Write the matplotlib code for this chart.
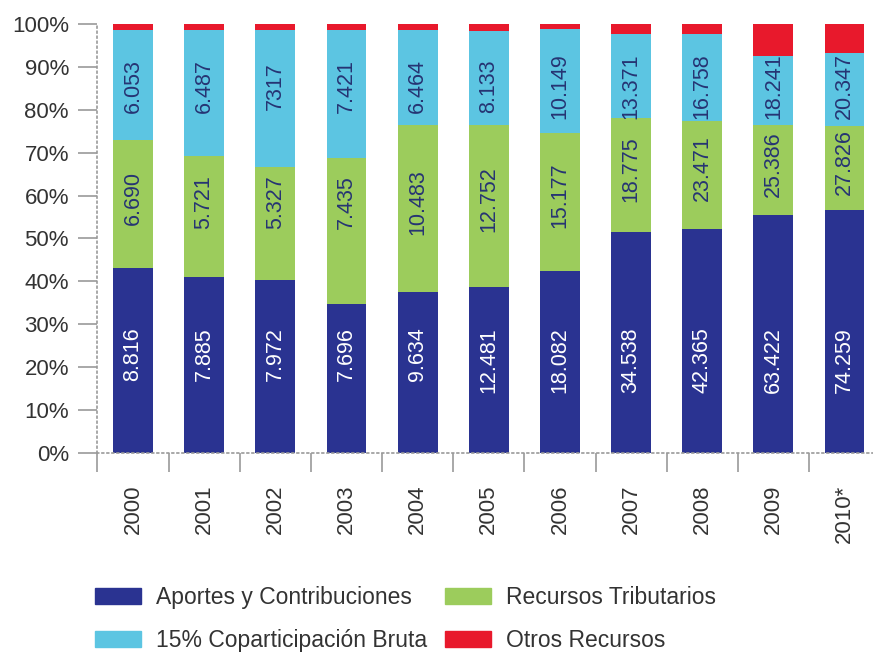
import numpy as np
import matplotlib
matplotlib.use('Agg')
import matplotlib.pyplot as plt
from matplotlib.patches import Patch

plt.rcParams['font.family'] = ['Liberation Sans', 'DejaVu Sans']

# datos (participación en %) y rótulos de cada tramo
years = ['2000', '2001', '2002', '2003', '2004', '2005', '2006', '2007', '2008', '2009', '2010*']
aportes_pct = [43.0, 41.1, 40.3, 34.7, 37.4, 38.7, 42.5, 51.4, 52.2, 55.4, 56.6]
tributarios_pct = [29.9, 28.2, 26.4, 34.0, 39.0, 37.7, 32.0, 26.6, 25.2, 21.0, 19.6]
copart_pct = [25.7, 29.3, 31.9, 29.9, 22.2, 22.0, 24.3, 19.6, 20.2, 16.1, 17.1]
otros_pct = [1.4, 1.4, 1.4, 1.4, 1.4, 1.6, 1.2, 2.4, 2.4, 7.5, 6.7]

aportes_lbl = ['8.816', '7.885', '7.972', '7.696', '9.634', '12.481', '18.082', '34.538', '42.365', '63.422', '74.259']
tributarios_lbl = ['6.690', '5.721', '5.327', '7.435', '10.483', '12.752', '15.177', '18.775', '23.471', '25.386', '27.826']
copart_lbl = ['6.053', '6.487', '7317', '7.421', '6.464', '8.133', '10.149', '13.371', '16.758', '18.241', '20.347']

c_blue = '#2a3391'
c_green = '#9ccc5c'
c_cyan = '#5cc5e2'
c_red = '#e8192c'
c_txt = '#263473'
c_grid = '#9a9a9a'

fig = plt.figure(figsize=(8.73, 6.53), dpi=100)
ax = fig.add_axes([0.1116, 0.3067, 0.8884, 0.6565])

x = np.arange(len(years))
w = 0.56
a = np.array(aportes_pct)
t = np.array(tributarios_pct)
c = np.array(copart_pct)
o = np.array(otros_pct)

ax.bar(x, a, width=w, color=c_blue, linewidth=0)
ax.bar(x, t, width=w, bottom=a, color=c_green, linewidth=0)
ax.bar(x, c, width=w, bottom=a + t, color=c_cyan, linewidth=0)
ax.bar(x, o, width=w, bottom=a + t + c, color=c_red, linewidth=0)

# rótulos verticales dentro de las barras
green_y = np.maximum(a + t / 2 + 1.5, 58.5)
for i in range(len(years)):
    ax.text(x[i], 29.3, aportes_lbl[i], rotation=90, ha='center', va='top',
            color='white', fontsize=15.5)
    ax.text(x[i], green_y[i], tributarios_lbl[i], rotation=90, ha='center', va='center',
            color=c_txt, fontsize=15.5)
    ax.text(x[i], 85.5, copart_lbl[i], rotation=90, ha='center', va='center',
            color=c_txt, fontsize=15.5)

ax.set_xlim(-0.5, 10.4)
ax.set_ylim(0, 100)

# eje y
ax.set_yticks(np.arange(0, 101, 10))
ax.set_yticklabels(['%d%%' % v for v in range(0, 101, 10)], fontsize=16, color='#333333')
ax.tick_params(axis='y', length=14, width=1.2, color=c_grid, pad=6.5)

# eje x: años en el centro, marcas entre barras
ax.set_xticks(x)
ax.set_xticklabels(years, rotation=90, fontsize=16, color='#333333')
ax.set_xticks(np.arange(-0.5, 10.5, 1), minor=True)
ax.tick_params(axis='x', which='major', length=0, pad=23)
ax.tick_params(axis='x', which='minor', length=14, width=1.2, color=c_grid)

for s in ['top', 'right']:
    ax.spines[s].set_visible(False)
for s in ['left', 'bottom']:
    ax.spines[s].set_linestyle((0, (1, 2)))
    ax.spines[s].set_color(c_grid)
    ax.spines[s].set_linewidth(1.2)

handles = [Patch(color=c_blue), Patch(color=c_cyan), Patch(color=c_green), Patch(color=c_red)]
labels = ['Aportes y Contribuciones', '15% Coparticipación Bruta', 'Recursos Tributarios', 'Otros Recursos']
fig.legend(handles, labels, ncol=2, loc='upper left', bbox_to_anchor=(0.109, 0.103),
           frameon=False, fontsize=16.5, handlelength=2.0, handleheight=0.7,
           handletextpad=0.65, columnspacing=0.8, labelspacing=0.9, borderpad=0,
           borderaxespad=0, labelcolor='#333333')

plt.savefig('out.png', dpi=100)
